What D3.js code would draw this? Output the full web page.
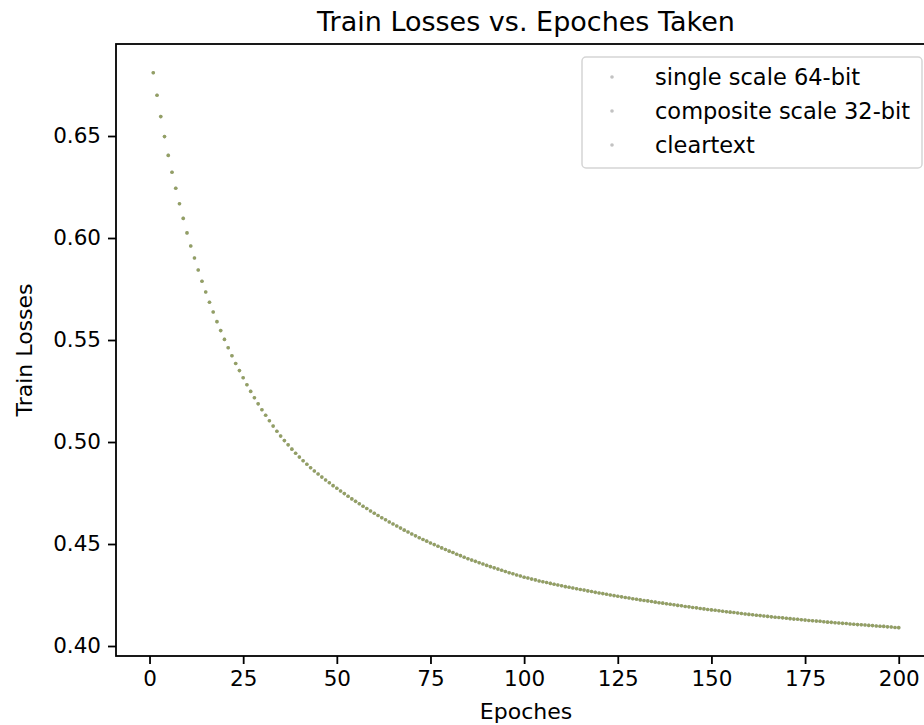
<!DOCTYPE html>
<html>
<head>
<meta charset="utf-8">
<script src="https://cdn.jsdelivr.net/npm/d3@7"></script>
<style>
  body { margin: 0; background: #fff; }
  text { font-family: "DejaVu Sans", sans-serif; fill: #000; }
</style>
</head>
<body>
<div id="chart"></div>
<script>
// series names (legend order)
const seriesNames = ["single scale 64-bit", "composite scale 32-bit", "cleartext"];
const seriesColors = ["#1f77b4", "#ff7f0e", "#2ca02c"];
const seriesAlpha = [0.5, 0.45, 0.3];

// epochs 1..200
const epochs = d3.range(1, 201);

// train loss per epoch (the three series overlap)
const trainLoss = [
  0.6810, 0.6700, 0.6595, 0.6497, 0.6405, 0.6322, 0.6244, 0.6168, 0.6096, 0.6025,
  0.5961, 0.5902, 0.5843, 0.5788, 0.5735, 0.5685, 0.5637, 0.5590, 0.5546, 0.5503,
  0.5462, 0.5423, 0.5385, 0.5350, 0.5315, 0.5281, 0.5248, 0.5217, 0.5187, 0.5158,
  0.5131, 0.5104, 0.5078, 0.5053, 0.5029, 0.5007, 0.4986, 0.4965, 0.4945, 0.4926,
  0.4908, 0.4891, 0.4874, 0.4858, 0.4843, 0.4828, 0.4814, 0.4800, 0.4786, 0.4773,
  0.4760, 0.4747, 0.4734, 0.4721, 0.4709, 0.4697, 0.4685, 0.4674, 0.4662, 0.4651,
  0.4640, 0.4629, 0.4619, 0.4608, 0.4598, 0.4588, 0.4578, 0.4568, 0.4559, 0.4549,
  0.4540, 0.4531, 0.4522, 0.4514, 0.4505, 0.4497, 0.4489, 0.4481, 0.4473, 0.4465,
  0.4458, 0.4450, 0.4443, 0.4435, 0.4428, 0.4421, 0.4415, 0.4408, 0.4402, 0.4395,
  0.4389, 0.4383, 0.4377, 0.4371, 0.4365, 0.4359, 0.4354, 0.4348, 0.4343, 0.4337,
  0.4333, 0.4328, 0.4324, 0.4319, 0.4315, 0.4311, 0.4307, 0.4303, 0.4299, 0.4295,
  0.4291, 0.4288, 0.4284, 0.4281, 0.4277, 0.4274, 0.4270, 0.4267, 0.4263, 0.4260,
  0.4257, 0.4254, 0.4250, 0.4247, 0.4244, 0.4241, 0.4238, 0.4235, 0.4232, 0.4229,
  0.4226, 0.4223, 0.4221, 0.4218, 0.4215, 0.4212, 0.4210, 0.4207, 0.4205, 0.4202,
  0.4199, 0.4197, 0.4194, 0.4192, 0.4189, 0.4187, 0.4184, 0.4182, 0.4179, 0.4177,
  0.4175, 0.4173, 0.4170, 0.4168, 0.4166, 0.4164, 0.4162, 0.4159, 0.4157, 0.4155,
  0.4153, 0.4151, 0.4149, 0.4147, 0.4145, 0.4143, 0.4141, 0.4140, 0.4138, 0.4136,
  0.4134, 0.4132, 0.4131, 0.4129, 0.4127, 0.4125, 0.4124, 0.4122, 0.4121, 0.4119,
  0.4117, 0.4116, 0.4114, 0.4113, 0.4111, 0.4110, 0.4108, 0.4107, 0.4105, 0.4104,
  0.4103, 0.4101, 0.4100, 0.4098, 0.4097, 0.4096, 0.4094, 0.4093, 0.4091, 0.4090
];

const xTicks = [0, 25, 50, 75, 100, 125, 150, 175, 200];
const yTicks = [0.40, 0.45, 0.50, 0.55, 0.60, 0.65];

const width = 924, height = 725;
const margin = {top: 44, right: -12, bottom: 69, left: 116};
const plotW = width - margin.left - margin.right;
const plotH = height - margin.top - margin.bottom;

const x = d3.scaleLinear().domain([-8.95, 209.95]).range([0, plotW]);
const y = d3.scaleLinear().domain([0.3951, 0.6951]).range([plotH, 0]);

const svg = d3.select("#chart").append("svg")
    .attr("width", width)
    .attr("height", height);

const g = svg.append("g")
    .attr("transform", `translate(${margin.left},${margin.top})`);

// title
svg.append("text")
    .attr("x", margin.left + plotW / 2)
    .attr("y", 31)
    .attr("text-anchor", "middle")
    .attr("font-size", "27px")
    .text("Train Losses vs. Epoches Taken");

// points, one layer per series
seriesNames.forEach(function(name, i) {
  g.append("g")
    .selectAll("circle")
    .data(epochs)
    .join("circle")
      .attr("cx", d => x(d))
      .attr("cy", (d, j) => y(trainLoss[j]))
      .attr("r", 1.8)
      .style("fill", seriesColors[i])
      .style("fill-opacity", seriesAlpha[i]);
});

// axes
const xAxis = g.append("g")
    .attr("transform", `translate(0,${plotH})`)
    .call(d3.axisBottom(x).tickValues(xTicks).tickSize(8).tickPadding(7));

const yAxis = g.append("g")
    .call(d3.axisLeft(y).tickValues(yTicks).tickFormat(d3.format(".2f")).tickSize(8).tickPadding(7));

[xAxis, yAxis].forEach(function(a) {
  a.select(".domain").remove();
  a.selectAll("line").attr("stroke", "#000").attr("stroke-width", 1.8);
  a.selectAll("text").attr("font-size", "21.5px").attr("font-family", "DejaVu Sans");
});

// spines
g.append("rect")
    .attr("width", plotW)
    .attr("height", plotH)
    .style("fill", "none")
    .style("stroke", "#000")
    .style("stroke-width", 1.8);

// axis labels
svg.append("text")
    .attr("x", margin.left + plotW / 2)
    .attr("y", 719)
    .attr("text-anchor", "middle")
    .attr("font-size", "22px")
    .text("Epoches");

svg.append("text")
    .attr("transform", `translate(32,${margin.top + plotH / 2}) rotate(-90)`)
    .attr("text-anchor", "middle")
    .attr("font-size", "22px")
    .text("Train Losses");

// legend
const legend = svg.append("g").attr("transform", "translate(582,57)");

legend.append("rect")
    .attr("width", 340)
    .attr("height", 111)
    .attr("rx", 4)
    .style("fill", "#fff")
    .style("fill-opacity", 0.8)
    .style("stroke", "#d5d5d5")
    .style("stroke-width", 1.5);

const rows = legend.selectAll("g.row")
    .data(seriesNames)
    .join("g")
    .attr("class", "row")
    .attr("transform", (d, i) => `translate(0,${20 + i * 34})`);

rows.append("circle")
    .attr("cx", 30)
    .attr("r", 1.8)
    .style("fill", "#9a9a9a")
    .style("fill-opacity", 0.6);

rows.append("text")
    .attr("x", 73)
    .attr("dy", "0.35em")
    .attr("font-size", "22.5px")
    .text(d => d);
</script>
</body>
</html>
